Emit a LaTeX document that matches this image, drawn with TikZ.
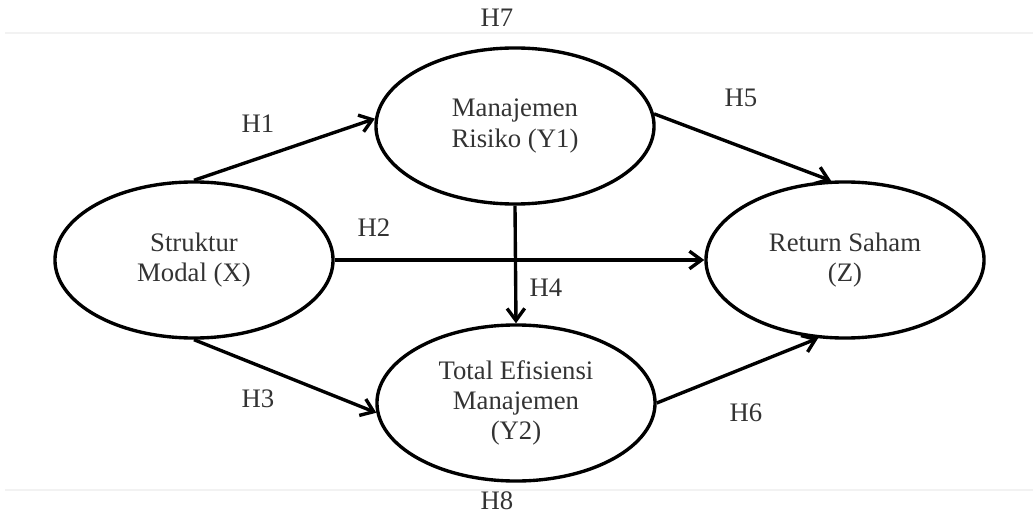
\documentclass[tikz,border=0pt]{standalone}
\usepackage{fontspec}
\setmainfont{Liberation Serif}
\usepackage{tikz}
\usetikzlibrary{arrows.meta,positioning,shapes.geometric}

\begin{document}
\begin{tikzpicture}[x=0.025cm,y=-0.025cm,
  var/.style={draw,ellipse,line width=2.4pt,align=center,inner sep=0pt,minimum width=6.95cm,minimum height=3.9cm,text=black!80,font=\fontsize{19pt}{21.5pt}\selectfont},
  hyp/.style={inner sep=0pt,text=black!80,font=\fontsize{19pt}{21.5pt}\selectfont},
  arr/.style={-{Straight Barb[length=3mm,width=4.4mm,line width=2.4pt]},line width=2.4pt}]
\useasboundingbox (0,0) rectangle (1033,518);
\draw[gray!10,line width=1.5pt] (5,33) -- (1033,33);
\draw[gray!10,line width=1.5pt] (5,490) -- (1033,490);
\node[var] (X) at (194,260) {Struktur\\Modal (X)};
\node[var] (Y1) at (515,126) {Manajemen\\Risiko (Y1)};
\node[var] (Y2) at (516,403) {Total Efisiensi\\Manajemen\\(Y2)};
\node[var] (Z) at (845,260) {Return Saham\\(Z)};
\draw[arr] (X.north) -- (Y1.177);
\draw[arr] (X.east) -- (Z.west);
\draw[arr] (X.south) -- (Y2.184);
\draw[arr] (Y1.south) -- (Y2.north);
\draw[arr] (Y1.5) -- (Z.100);
\draw[arr] (Y2.east) -- (Z.251);
\node[hyp] (h1) at (258,124) {H1};
\node[hyp] (h2) at (374,228) {H2};
\node[hyp] (h3) at (258,399) {H3};
\node[hyp] (h4) at (546,288) {H4};
\node[hyp] (h5) at (741,98) {H5};
\node[hyp] (h6) at (746,413) {H6};
\node[hyp] (h7) at (497,18) {H7};
\node[hyp] (h8) at (497,501) {H8};
\end{tikzpicture}
\end{document}
